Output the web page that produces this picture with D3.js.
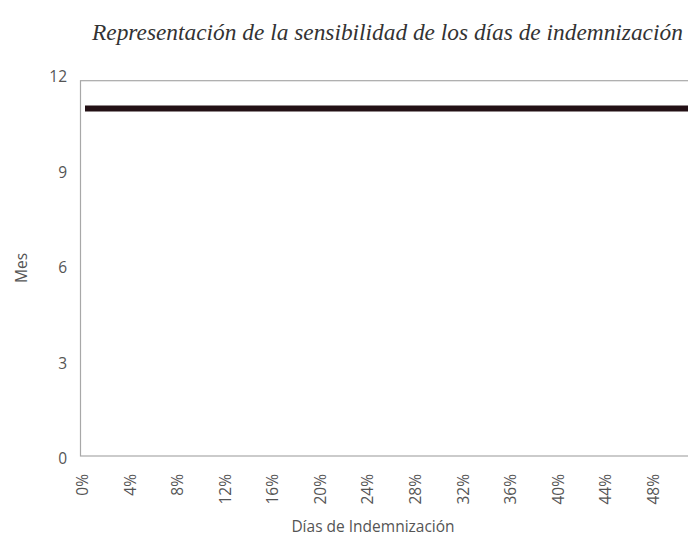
<!DOCTYPE html>
<html>
<head>
<meta charset="utf-8">
<script src="https://cdn.jsdelivr.net/npm/d3@7"></script>
<style>
  body { margin: 0; background: #fff; }
  svg { display: block; }
  .tick text { font-family: 'Open Sans', sans-serif; fill: #555; }
</style>
</head>
<body>
<div id="chart"></div>
<script>
const title = 'Representación de la sensibilidad de los días de indemnización'
const xLabel = 'Días de Indemnización'
const yLabel = 'Mes'

// share of indemnization days vs months (flat at 11)
const dias = [0, 0.04, 0.08, 0.12, 0.16, 0.20, 0.24, 0.28, 0.32, 0.36, 0.40, 0.44, 0.48, 0.52, 0.56]
const meses = [11, 11, 11, 11, 11, 11, 11, 11, 11, 11, 11, 11, 11, 11, 11]
const xTicks = [0, 0.04, 0.08, 0.12, 0.16, 0.20, 0.24, 0.28, 0.32, 0.36, 0.40, 0.44, 0.48]
const yTicks = [0, 3, 6, 9, 12]

const width = 688
const height = 539

const svg = d3.select('#chart').append('svg')
  .attr('width', width)
  .attr('height', height)

const x = d3.scaleLinear().domain([0, 0.48]).range([82, 653])
const y = d3.scaleLinear().domain([0, 12]).range([459, 76.7])

// plot frame
svg.append('rect')
  .attr('x', 80.5)
  .attr('y', y(12) + 4)
  .attr('width', 700)
  .attr('height', y(0) - 3 - (y(12) + 4))
  .attr('fill', 'none')
  .attr('stroke', '#a8a8a8')
  .attr('stroke-width', 1.2)

svg.append('g')
  .attr('transform', 'translate(67,0)')
  .call(d3.axisLeft(y).tickValues(yTicks).tickSize(0).tickPadding(0))
  .call(g => g.select('.domain').remove())
  .selectAll('text').style('font-size', '15.5px')

svg.append('g')
  .attr('transform', 'translate(0,474)')
  .call(d3.axisBottom(x).tickValues(xTicks).tickFormat(d3.format('.0%')).tickSize(0))
  .call(g => g.select('.domain').remove())
  .selectAll('text')
    .style('font-size', '15.5px')
    .attr('text-anchor', 'end')
    .attr('transform', 'rotate(-90)')
    .attr('x', 0)
    .attr('y', 0)
    .attr('dy', '0.35em')
    .attr('dx', 0)

const line = d3.line()
  .x((d, i) => x(dias[i]))
  .y(d => y(d))

svg.append('path')
  .datum(meses)
  .attr('d', line)
  .attr('fill', 'none')
  .attr('stroke', '#231015')
  .attr('stroke-width', 6)
  .attr('transform', 'translate(3,0)')

const t = svg.append('text')
  .attr('x', 92)
  .attr('y', 40)
  .attr('font-family', "'Liberation Serif', serif")
  .attr('font-style', 'italic')
  .attr('font-size', 21)
  .attr('fill', '#333')
  .text(title)
const w = t.node().getComputedTextLength()
t.attr('font-size', 21 * 591 / w)

svg.append('text')
  .attr('transform', 'translate(27,268) rotate(-90)')
  .attr('text-anchor', 'middle')
  .attr('font-family', "'Open Sans', sans-serif")
  .attr('font-size', 15.5)
  .attr('fill', '#555')
  .text(yLabel)

svg.append('text')
  .attr('x', 373)
  .attr('y', 532)
  .attr('text-anchor', 'middle')
  .attr('font-family', "'Open Sans', sans-serif")
  .attr('font-size', 15.5)
  .attr('fill', '#555')
  .text(xLabel)
</script>
</body>
</html>
